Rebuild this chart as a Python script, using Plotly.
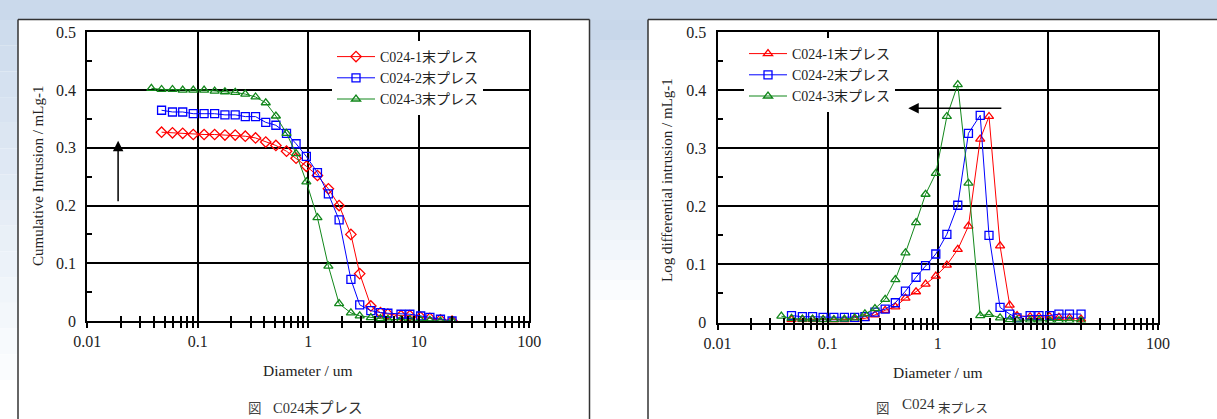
import math
import plotly.graph_objects as go

# ---------------- data ----------------
diameter = [0.038, 0.047, 0.059, 0.073, 0.091, 0.114, 0.142, 0.176, 0.218, 0.269,
            0.333, 0.412, 0.509, 0.635, 0.775, 0.96, 1.21, 1.52, 1.9, 2.43,
            2.92, 3.68, 4.5, 5.25, 6.9, 8.3, 10.4, 12.6, 15.7, 20.0]

series_names = ["C024-1末プレス", "C024-2末プレス", "C024-3末プレス"]

# cumulative intrusion (mL/g); series 1 and 2 start at the 2nd diameter
cum_1 = [0.327, 0.326, 0.325, 0.323, 0.323, 0.323, 0.322, 0.322, 0.320, 0.317,
         0.310, 0.304, 0.294, 0.282, 0.268, 0.252, 0.229, 0.200, 0.150, 0.082,
         0.026, 0.0145, 0.012, 0.0093, 0.0093, 0.0064, 0.0047, 0.002, 0.0]
cum_2 = [0.365, 0.362, 0.362, 0.359, 0.359, 0.359, 0.357, 0.357, 0.354, 0.354,
         0.344, 0.339, 0.325, 0.307, 0.285, 0.257, 0.220, 0.175, 0.072, 0.028,
         0.018, 0.0145, 0.0134, 0.0117, 0.0117, 0.0087, 0.0064, 0.003, 0.0]
cum_3 = [0.403, 0.401, 0.401, 0.400, 0.400, 0.400, 0.398, 0.397, 0.396, 0.393,
         0.388, 0.378, 0.355, 0.325, 0.290, 0.241, 0.179, 0.095, 0.030, 0.014,
         0.009, 0.006, 0.004, 0.003, 0.002, 0.002, 0.001, 0.001, 0.0, 0.0]

# log differential intrusion (mL/g)
ld_1 = [0.005, 0.005, 0.005, 0.005, 0.004, 0.004, 0.005, 0.007, 0.013, 0.021,
        0.027, 0.042, 0.053, 0.066, 0.080, 0.099, 0.126, 0.166, 0.316, 0.355,
        0.132, 0.030, 0.012, 0.010, 0.010, 0.010, 0.009, 0.008, 0.006]
ld_2 = [0.012, 0.010, 0.010, 0.009, 0.009, 0.009, 0.009, 0.010, 0.018, 0.023,
        0.034, 0.054, 0.078, 0.098, 0.118, 0.152, 0.202, 0.326, 0.357, 0.150,
        0.026, 0.0145, 0.008, 0.012, 0.012, 0.012, 0.0145, 0.0145, 0.0145]
ld_3 = [0.011, 0.007, 0.006, 0.006, 0.005, 0.005, 0.006, 0.008, 0.015, 0.024,
        0.040, 0.074, 0.120, 0.172, 0.221, 0.257, 0.355, 0.410, 0.240, 0.012,
        0.014, 0.008, 0.005, 0.004, 0.004, 0.004, 0.003, 0.003, 0.003, 0.003]

x_tick_vals = [0.01, 0.1, 1, 10, 100]
x_tick_text = ["0.01", "0.1", "1", "10", "100"]

# arrows (data coordinates): [x_tail, y_tail, x_head, y_head]
arrow_left = [0.019, 0.205, 0.019, 0.312]
arrow_right = [3.9, 0.369, 0.54, 0.369]

# ---------------- styling ----------------
W, H = 1217, 419
FONT = "Liberation Serif, Times New Roman, Noto Sans CJK JP, serif"
RED, BLUE, GREEN = "#ff0000", "#0000ff", "#11871a"

def px(x):
    return x / W

def py(y):
    return 1 - y / H

fig = go.Figure()

left_markers = ["diamond-open", "square-open", "triangle-up-open"]
right_markers = ["triangle-up-open", "square-open", "triangle-up-open"]
colors = [RED, BLUE, GREEN]
cum_data = [(diameter[1:], cum_1), (diameter[1:], cum_2), (diameter, cum_3)]
ld_data = [(diameter[1:], ld_1), (diameter[1:], ld_2), (diameter, ld_3)]

for i in range(3):
    xs, ys = cum_data[i]
    fig.add_trace(go.Scatter(
        x=xs, y=ys, name=series_names[i], mode="lines+markers",
        xaxis="x", yaxis="y", legend="legend",
        line=dict(color=colors[i], width=1),
        marker=dict(symbol=left_markers[i], size=8, color=colors[i],
                    line=dict(width=1.3, color=colors[i])),
    ))
for i in range(3):
    xs, ys = ld_data[i]
    fig.add_trace(go.Scatter(
        x=xs, y=ys, name=series_names[i], mode="lines+markers",
        xaxis="x2", yaxis="y2", legend="legend2",
        line=dict(color=colors[i], width=1),
        marker=dict(symbol=right_markers[i], size=8, color=colors[i],
                    line=dict(width=1.3, color=colors[i])),
    ))

# empty traces so the overlay (inside-tick) axes are drawn
fig.add_trace(go.Scatter(x=[], y=[], xaxis="x3", yaxis="y", showlegend=False))
fig.add_trace(go.Scatter(x=[], y=[], xaxis="x4", yaxis="y2", showlegend=False))

tickfont = dict(family=FONT, size=16, color="#222")

def xaxis(domain, anchor, overlay=None):
    d = dict(
        type="log", range=[-2, 2], domain=domain, anchor=anchor, automargin=False,
        tickvals=x_tick_vals, ticktext=x_tick_text,
        showline=True, linecolor="black", linewidth=2, mirror=True,
        ticks="outside", ticklen=5, tickwidth=1.5, tickcolor="black",
        showgrid=True, gridcolor="black", gridwidth=1.5,
        minor=dict(dtick="D1", ticks="outside", ticklen=5, tickwidth=1.5,
                   tickcolor="black", showgrid=False),
        tickfont=tickfont, ticklabelstandoff=0, zeroline=False,
    )
    if overlay:
        d.update(overlaying=overlay, showticklabels=False, showgrid=False,
                 ticks="inside", showline=False,
                 minor=dict(dtick="D1", ticks="inside", ticklen=5, tickwidth=1.5,
                            tickcolor="black", showgrid=False))
    return d

def yaxis(domain, anchor):
    return dict(
        range=[0, 0.5], domain=domain, anchor=anchor, dtick=0.1, automargin=False,
        showline=True, linecolor="black", linewidth=2, mirror=True,
        ticks="inside", ticklen=6, tickwidth=1.5, tickcolor="black",
        showgrid=True, gridcolor="black", gridwidth=1.5,
        minor=dict(dtick=0.05, ticks="inside", ticklen=5, tickwidth=1.5,
                   tickcolor="black", showgrid=False),
        tickfont=tickfont, ticklabelstandoff=6, zeroline=False,
    )

xd1 = [px(87.3), px(529.3)]
yd1 = [py(321), py(32.3)]
xd2 = [px(717.5), px(1158)]
yd2 = [py(322.5), py(32.3)]

legend_common = dict(
    bgcolor="white", borderwidth=0, font=dict(family=FONT, size=14, color="#222"),
    xanchor="left", yanchor="top", itemwidth=38, tracegroupgap=0,
)

shapes = []
# background bands (blue-ish slide background)
def grad(x0, x1, y0, y1, c0, c1, n=14):
    for k in range(n):
        t = k / (n - 1)
        c = tuple(int(round(c0[j] + (c1[j] - c0[j]) * t)) for j in range(3))
        ya = y0 + (y1 - y0) * k / n
        yb = y0 + (y1 - y0) * (k + 1) / n
        shapes.append(dict(type="rect", xref="paper", yref="paper", layer="below",
                           x0=px(x0), x1=px(x1), y0=py(yb), y1=py(ya),
                           fillcolor="rgb(%d,%d,%d)" % c, line=dict(width=0)))

shapes.append(dict(type="rect", xref="paper", yref="paper", layer="below",
                   x0=0, x1=1, y0=py(20), y1=1, fillcolor="#cad9eb",
                   line=dict(width=0)))
grad(0, 18, 20, 380, (206, 220, 237), (250, 252, 254))
grad(589, 648, 20, 300, (200, 215, 234), (250, 252, 254))

# panel frames
for x0, x1 in [(18, 589.5), (648, 1217)]:
    shapes.append(dict(type="line", xref="paper", yref="paper", layer="below",
                       x0=px(x0), x1=px(x1), y0=py(19.5), y1=py(19.5),
                       line=dict(color="#333", width=1.5)))
    shapes.append(dict(type="line", xref="paper", yref="paper", layer="below",
                       x0=px(x0), x1=px(x0), y0=py(19.5), y1=0,
                       line=dict(color="#333", width=1.5)))
shapes.append(dict(type="line", xref="paper", yref="paper", layer="below",
                   x0=px(589.5), x1=px(589.5), y0=py(19.5), y1=0,
                   line=dict(color="#333", width=1.5)))

# white boxes behind legends (hide gridlines like the original legend boxes)
shapes.append(dict(type="rect", xref="paper", yref="paper", layer="between",
                   x0=px(300), x1=px(520), y0=py(99), y1=py(42),
                   fillcolor="white", line=dict(width=0)))
shapes.append(dict(type="rect", xref="paper", yref="paper", layer="between",
                   x0=px(719), x1=px(925), y0=py(98), y1=py(43),
                   fillcolor="white", line=dict(width=0)))

def label(text, x, y, size, color="#222", angle=0):
    return dict(text=text, xref="paper", yref="paper", x=px(x), y=py(y),
                xanchor="center", yanchor="middle", textangle=angle,
                showarrow=False, font=dict(family=FONT, size=size, color=color))

annotations = [
    label("Diameter / um", 308, 370, 15.5),
    label("Diameter / um", 938, 372, 15.5),
    label("Cumulative Intrusion / mLg-1", 38, 176, 15, angle=-90),
    label("Log differential intrusion / mLg-1", 667, 180, 15, angle=-90),
    label("図", 255, 408, 13.5, "#444"),
    label("C024末プレス", 317, 407.5, 14.5, "#333"),
    label("図", 883, 408.5, 13.5, "#444"),
    label("C024", 918, 404, 15, "#333"),
    label("末プレス", 963, 409, 12.5, "#333"),
]

for arr, xr, yr in [(arrow_left, "x", "y"), (arrow_right, "x2", "y2")]:
    annotations.append(dict(
        x=math.log10(arr[2]), y=arr[3], ax=math.log10(arr[0]), ay=arr[1],
        xref=xr, yref=yr, axref=xr, ayref=yr, text="", showarrow=True,
        arrowhead=2, arrowsize=1.4, arrowwidth=1.5, arrowcolor="black",
    ))

fig.update_layout(
    width=W, height=H, margin=dict(l=0, r=0, t=0, b=0, pad=0, autoexpand=False),
    paper_bgcolor="white", plot_bgcolor="rgba(0,0,0,0)",
    xaxis=xaxis(xd1, "y"), yaxis=yaxis(yd1, "x"),
    xaxis2=xaxis(xd2, "y2"), yaxis2=yaxis(yd2, "x2"),
    xaxis3=xaxis(xd1, "y", overlay="x"),
    xaxis4=xaxis(xd2, "y2", overlay="x2"),
    legend=dict(x=px(332), y=py(41), **legend_common),
    legend2=dict(x=px(744), y=py(38), **legend_common),
    shapes=shapes, annotations=annotations, showlegend=True,
)

fig.write_html("out.html")
